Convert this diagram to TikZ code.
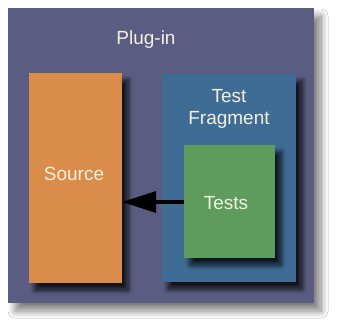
\documentclass[tikz,border=0pt]{standalone}
\usepackage{fontspec}
\setmainfont{Liberation Sans}
\usetikzlibrary{shadows.blur,arrows.meta}
\definecolor{outerc}{RGB}{90,92,130}
\definecolor{srcc}{RGB}{218,141,75}
\definecolor{fragc}{RGB}{62,108,148}
\definecolor{testc}{RGB}{94,156,94}
\definecolor{txtc}{RGB}{242,240,222}
\begin{document}
\begin{tikzpicture}[x=1pt,y=-1pt,
  box/.style={draw=none,blur shadow={shadow xshift=6pt,shadow yshift=-7pt,shadow blur steps=10,shadow blur radius=5pt,shadow opacity=80}},
  lbl/.style={text=txtc,font=\fontsize{19}{22}\selectfont,align=center}]
\useasboundingbox (0,0) rectangle (337,326);
\fill[white] (0,0) rectangle (337,326);
\path[fill=outerc,blur shadow={shadow xshift=7pt,shadow yshift=-8pt,shadow blur steps=12,shadow blur radius=7pt,shadow opacity=50}] (8,8) rectangle (314,303);
\node[box,fill=srcc,minimum width=93pt,minimum height=210pt,inner sep=0pt] (source) at (75.5,178) {};
\node[box,fill=fragc,minimum width=134pt,minimum height=208pt,inner sep=0pt] (frag) at (229,178) {};
\node[box,fill=testc,minimum width=91pt,minimum height=113pt,inner sep=0pt] (tests) at (229.5,201.5) {};
\node[lbl] (plugin) at (146,40) {Plug-in};
\node[lbl] (fraglbl) at (229,109) {Test\\Fragment};
\node[lbl] (srclbl) at (74,174) {Source};
\node[lbl] (testslbl) at (226,203) {Tests};
\draw[line width=3.5pt,-{Triangle[length=34pt,width=22pt,line width=0pt,fill=black]}] (tests.west |- 0,202) -- (source.east |- 0,202);
\end{tikzpicture}
\end{document}
